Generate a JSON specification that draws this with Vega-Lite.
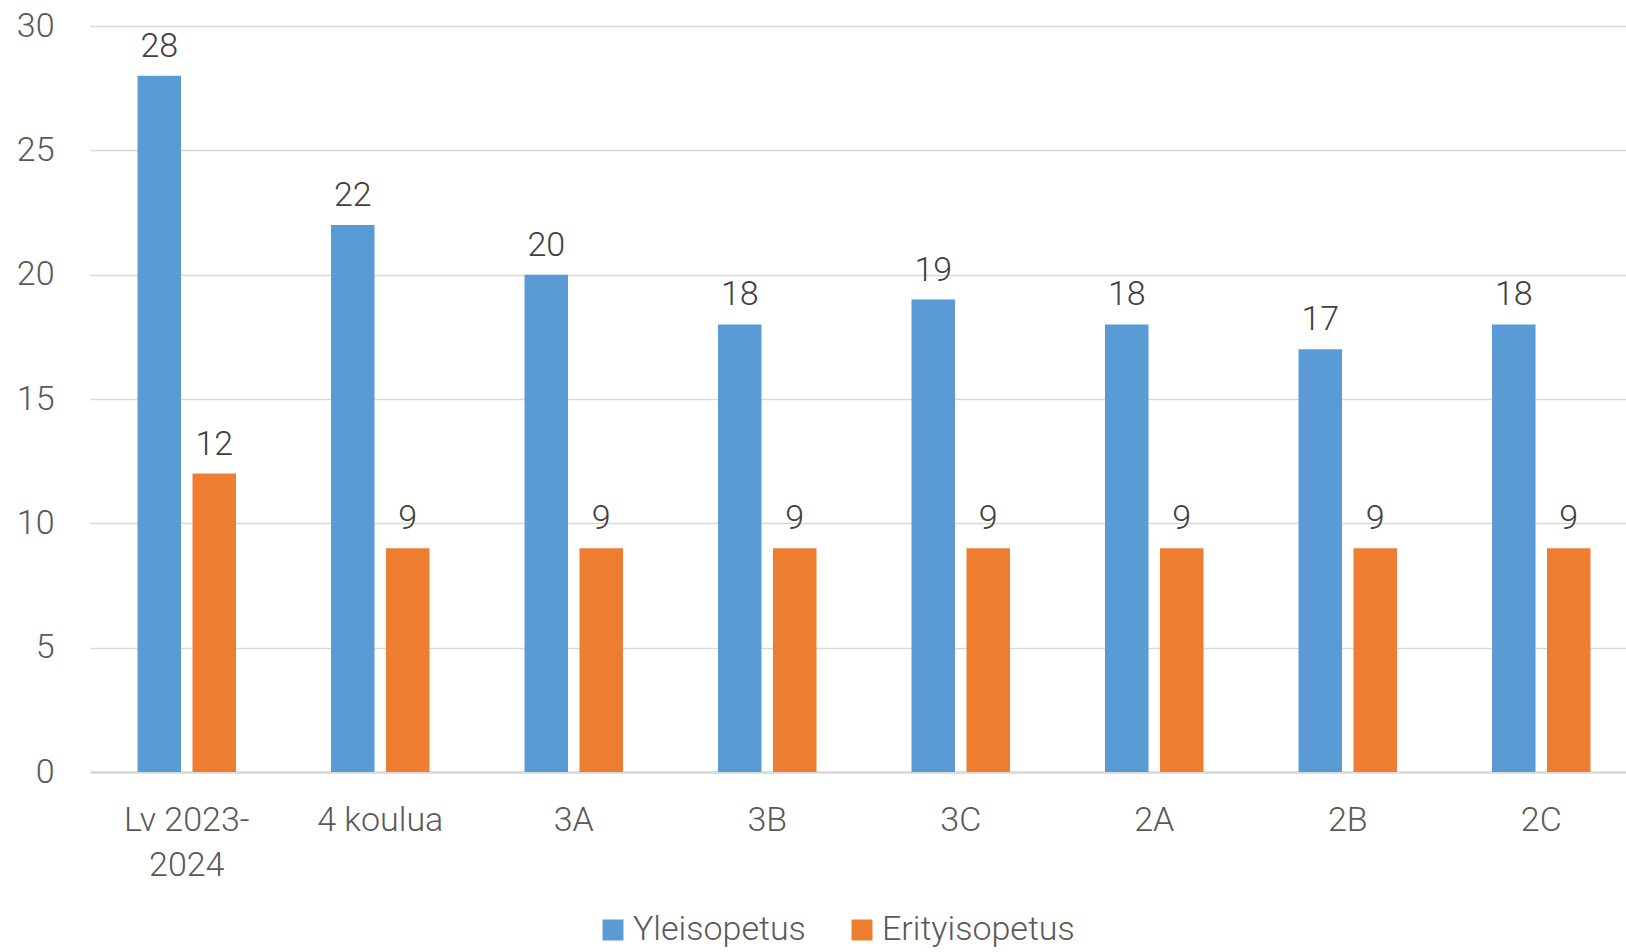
{
  "$schema": "https://vega.github.io/schema/vega-lite/v6.json",
  "width": 1548,
  "height": 746,
  "padding": {"left": 16, "top": 9, "right": 0, "bottom": 0},
  "background": "white",
  "data": {
    "values": [
      {"luokka": "Lv 2023-2024", "ryhma": "Yleisopetus", "arvo": 28},
      {"luokka": "Lv 2023-2024", "ryhma": "Erityisopetus", "arvo": 12},
      {"luokka": "4 koulua", "ryhma": "Yleisopetus", "arvo": 22},
      {"luokka": "4 koulua", "ryhma": "Erityisopetus", "arvo": 9},
      {"luokka": "3A", "ryhma": "Yleisopetus", "arvo": 20},
      {"luokka": "3A", "ryhma": "Erityisopetus", "arvo": 9},
      {"luokka": "3B", "ryhma": "Yleisopetus", "arvo": 18},
      {"luokka": "3B", "ryhma": "Erityisopetus", "arvo": 9},
      {"luokka": "3C", "ryhma": "Yleisopetus", "arvo": 19},
      {"luokka": "3C", "ryhma": "Erityisopetus", "arvo": 9},
      {"luokka": "2A", "ryhma": "Yleisopetus", "arvo": 18},
      {"luokka": "2A", "ryhma": "Erityisopetus", "arvo": 9},
      {"luokka": "2B", "ryhma": "Yleisopetus", "arvo": 17},
      {"luokka": "2B", "ryhma": "Erityisopetus", "arvo": 9},
      {"luokka": "2C", "ryhma": "Yleisopetus", "arvo": 18},
      {"luokka": "2C", "ryhma": "Erityisopetus", "arvo": 9}
    ]
  },
  "encoding": {
    "x": {
      "field": "luokka",
      "type": "nominal",
      "sort": null,
      "title": null,
      "scale": {"paddingInner": 0.491, "paddingOuter": 0.2455},
      "axis": {
        "labelAngle": 0,
        "ticks": false,
        "domainColor": "#d9d9d9",
        "domainWidth": 2.5,
        "labelPadding": 31,
        "labelBaseline": "top",
        "labelLineHeight": 45,
        "labelExpr": "datum.value == 'Lv 2023-2024' ? ['Lv 2023-', '2024'] : datum.label"
      }
    },
    "xOffset": {
      "field": "ryhma",
      "type": "nominal",
      "sort": ["Yleisopetus", "Erityisopetus"],
      "scale": {"paddingInner": 0.209, "paddingOuter": 0}
    },
    "y": {
      "field": "arvo",
      "type": "quantitative",
      "title": null,
      "scale": {"domain": [0, 30], "nice": false},
      "axis": {
        "values": [0, 5, 10, 15, 20, 25, 30],
        "domain": false,
        "ticks": false,
        "labelPadding": 36,
        "gridColor": "#d9d9d9",
        "gridWidth": 1.5
      }
    }
  },
  "layer": [
    {
      "mark": {"type": "bar"},
      "encoding": {
        "color": {
          "field": "ryhma",
          "type": "nominal",
          "sort": ["Yleisopetus", "Erityisopetus"],
          "scale": {"domain": ["Yleisopetus", "Erityisopetus"], "range": ["#5B9BD5", "#ED7D31"]},
          "legend": {
            "title": null,
            "orient": "none",
            "direction": "horizontal",
            "legendX": 506,
            "legendY": 887,
            "symbolType": "square",
            "symbolSize": 440,
            "symbolStrokeWidth": 0,
            "labelOffset": 3,
            "columnPadding": 39,
            "labelFontSize": 34,
            "labelLimit": 400,
            "labelColor": "#595959",
            "labelFont": "Roboto",
            "labelFontWeight": 300
          }
        }
      }
    },
    {
      "mark": {"type": "text", "baseline": "bottom", "dy": -12, "fontSize": 34, "font": "Roboto", "fontWeight": 300, "color": "#404040"},
      "encoding": {
        "text": {"field": "arvo", "type": "quantitative"}
      }
    }
  ],
  "config": {
    "view": {"stroke": null},
    "axis": {
      "labelFont": "Roboto",
      "labelFontWeight": 300,
      "labelFontSize": 34,
      "labelColor": "#595959"
    }
  }
}
